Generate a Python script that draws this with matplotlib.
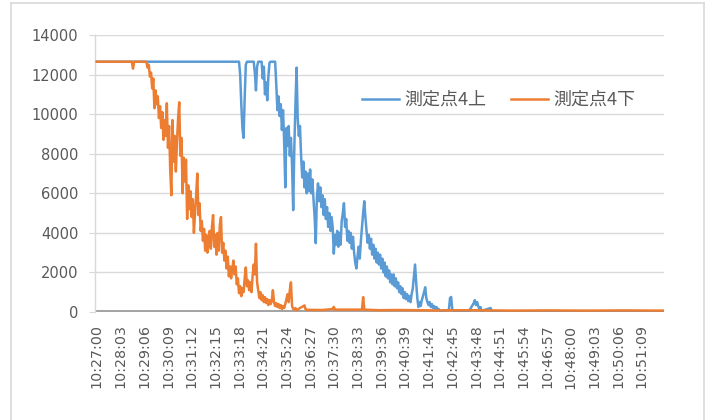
import matplotlib
matplotlib.use("Agg")
import matplotlib.pyplot as plt
from matplotlib.lines import Line2D

plt.rcParams['font.family'] = ['DejaVu Sans', 'Noto Sans CJK JP']

# Seconds elapsed since 10:27:00 and measured values for each point
upper_name = "測定点4上"
upper_sec = [0, 378, 381, 384, 387, 390, 393, 396, 399, 417, 420, 423, 426, 429, 438, 441, 444,
             447, 450, 453, 456, 459, 462, 474,
             477, 480, 483, 486, 489, 492, 495, 498, 501, 504, 507, 510, 513, 516, 519, 522,
             525, 528, 531, 534, 537, 540, 543, 546, 549, 552, 555, 558, 561, 564, 567, 570,
             573, 576, 579, 582, 585, 588, 591, 594, 597, 600, 603, 606, 609, 612, 615, 618,
             621, 624, 627, 630, 633, 636, 639, 642, 645, 648, 651, 654, 657, 660, 663, 666,
             669, 672, 675, 678, 681, 684, 687, 690, 693, 696, 699, 702, 705, 708, 711, 714,
             717, 720, 723, 726, 729, 732, 735, 738, 741, 744, 747, 750, 753, 756, 759, 762,
             765, 768, 771, 774, 777, 780, 783, 786, 789, 792, 795, 798, 801, 804, 807, 810,
             813, 816, 819, 822, 825, 828, 831, 834, 837, 840, 843, 846, 849, 852, 855, 858,
             861, 864, 867, 870, 873, 876, 879, 882, 885, 888, 891, 894, 897, 900, 903, 906,
             909, 912, 936, 939, 942, 945, 948, 990, 996, 1002, 1005, 1008, 1011, 1014, 1017,
             1020, 1023, 1047, 1050, 1509]
upper_val = [12650, 12650, 12000, 10500, 9300, 8800, 10800, 12500, 12650, 12650, 12100, 11200,
             12400, 12650, 12650, 11800, 12400, 11000, 11600, 10700, 11900, 12600, 12650, 12650,
             11500, 10200, 10900, 9900, 10500, 9200, 10200, 8600, 6300, 9300, 8400, 9400, 7900,
             8800, 7400, 5150, 8300, 10500, 12350, 9800, 8900, 9400, 7900, 6800, 7600, 6300,
             7100, 6000, 7000, 6100, 7200, 6000, 6700, 5700, 4800, 3480, 5800, 6500, 5600, 6300,
             5300, 5900, 4900, 5700, 4700, 5300, 4300, 5000, 4100, 4800, 4300, 2950, 3900, 3400,
             4100, 3300, 4000, 3400, 4600, 5000, 5500, 4300, 4700, 3600, 4100, 3500, 4000, 3200,
             3800, 3000, 2500, 2200, 2800, 3300, 2700, 3600, 4300, 5000, 5600, 4800, 4100, 3500,
             3900, 3200, 3700, 2900, 3400, 2700, 3200, 2500, 3000, 2400, 2900, 2200, 2700, 2000,
             2500, 1800, 2300, 1700, 2100, 1500, 1900, 1400, 1900, 1300, 1700, 1200, 1500, 1000,
             1300, 900, 1200, 700, 1000, 650, 900, 550, 800, 500, 900, 1200, 1800, 2400, 1500,
             700, 250, 500, 300, 600, 800, 1000, 1250, 700, 500, 350, 500, 250, 400, 200, 300,
             150, 250, 100, 150, 60, 100, 700, 760, 150, 60, 60, 250, 450, 600, 350, 500, 300,
             150, 250, 60, 200, 40, 30]

lower_name = "測定点4下"
lower_sec = [0, 93, 96, 99,
             129, 132, 135, 138, 141, 144, 147, 150, 153, 156, 159, 162, 165, 168, 171, 174,
             177, 180, 183, 186, 189, 192, 195, 198, 201, 204, 207, 210, 213, 216, 219, 222,
             225, 228, 231, 234, 237, 240, 243, 246, 249, 252, 255, 258, 261, 264, 267, 270,
             273, 276, 279, 282, 285, 288, 291, 294, 297, 300, 303, 306, 309, 312, 315, 318,
             321, 324, 327, 330, 333, 336, 339, 342, 345, 348, 351, 354, 357, 360, 363, 366,
             369, 372, 375, 378, 381, 384, 387, 390, 393, 396, 399, 402, 405, 408, 411, 414,
             417, 420, 423, 426, 429, 432, 435, 438, 441, 444, 447, 450, 453, 456, 459, 462,
             465, 468, 471, 474, 477, 480, 483, 486, 489, 492, 495, 498, 501, 504, 507, 510,
             513, 516, 519, 522, 525, 528, 531,
             540, 552, 555, 558, 600, 627, 630, 633, 705, 708, 711, 750, 800, 900, 1000, 1100,
             1200, 1300, 1400, 1509]
lower_val = [12650, 12650, 12300, 12650,
             12650, 12600, 12350, 12500, 11900, 12100, 11300, 11800, 10300, 11200, 10500, 10900,
             9800, 10400, 9300, 10100, 8700, 9700, 8900, 10550, 8300, 9400, 7200, 5900, 9700,
             7600, 8900, 7100, 8600, 9800, 10600, 7900, 8800, 6000, 7800, 6600, 7700, 4700,
             6400, 5200, 6100, 4800, 5700, 4000, 5000, 5900, 7000, 4900, 5500, 4100, 4600, 3600,
             4200, 3100, 3900, 3000, 3700, 4100, 3200, 4300, 4900, 3300, 3900, 2900, 4000, 3100,
             4400, 4800, 3000, 3500, 2600, 3100, 2200, 2800, 1800, 2300, 1700, 2200, 2600, 1900,
             2300, 1400, 1700, 950, 1300, 800, 1200, 1000, 1700, 2250, 1300, 1600, 1100, 1500,
             1000, 1800, 2400, 1900, 3450, 1500, 1100, 700, 1000, 600, 850, 500, 750, 450, 650,
             350, 600, 400, 550, 1100, 500, 300, 450, 250, 400, 200, 350, 150, 300, 200, 400,
             650, 900, 500, 1100, 1500, 300, 150, 120, 200, 90,
             200, 330, 130, 110, 100, 150, 260, 120, 120, 750, 120, 90, 100, 80, 90, 70,
             80, 70, 80, 70]

time_labels = ["10:27:00", "10:28:03", "10:29:06", "10:30:09", "10:31:12", "10:32:15",
               "10:33:18", "10:34:21", "10:35:24", "10:36:27", "10:37:30", "10:38:33",
               "10:39:36", "10:40:39", "10:41:42", "10:42:45", "10:43:48", "10:44:51",
               "10:45:54", "10:46:57", "10:48:00", "10:49:03", "10:50:06", "10:51:09"]
y_ticks = [0, 2000, 4000, 6000, 8000, 10000, 12000, 14000]


def to_seconds(label, start="10:27:00"):
    h, m, s = (int(p) for p in label.split(":"))
    h0, m0, s0 = (int(p) for p in start.split(":"))
    return (h * 3600 + m * 60 + s) - (h0 * 3600 + m0 * 60 + s0)


W, H = 712, 420
fig = plt.figure(figsize=(W / 100, H / 100), dpi=100)
fig.patch.set_facecolor("white")

# light chart-area border
border = "#d9d9d9"
for xs, ys in [((11 / W, 704 / W), (1 - 3 / H, 1 - 3 / H)),
               ((11 / W, 11 / W), (1 - 3 / H, -0.01)),
               ((704 / W, 704 / W), (1 - 3 / H, -0.01))]:
    fig.add_artist(Line2D(xs, ys, color=border, lw=1.2, transform=fig.transFigure))

ax = fig.add_axes([95 / W, 1 - 312 / H, (664 - 95) / W, (312 - 35) / H])
ax.set_xlim(-5, 1508)
ax.set_ylim(0, 14000)

grid_c = "#d9d9d9"
for v in y_ticks[1:]:
    ax.axhline(v, color=grid_c, lw=1.0, zorder=1)
ax.axhline(0, color="#a5a5a5", lw=2.9, zorder=1.5, solid_capstyle="butt")

ax.plot(upper_sec, upper_val, color="#5b9bd5", lw=1.8, zorder=3, label=upper_name)
ax.plot(lower_sec, lower_val, color="#ed7d31", lw=1.8, zorder=4, label=lower_name)

for s in ["top", "right", "bottom"]:
    ax.spines[s].set_visible(False)
ax.spines["left"].set_color(grid_c)
ax.spines["left"].set_linewidth(1.0)

text_c = "#595959"
ax.set_yticks(y_ticks)
ax.set_yticklabels([str(v) for v in y_ticks])
ax.tick_params(axis="y", length=4, color=grid_c, pad=8, labelsize=10.5, labelcolor=text_c)

ax.set_xticks([to_seconds(lb) for lb in time_labels])
ax.set_xticklabels(time_labels, rotation=90)
ax.tick_params(axis="x", length=0, pad=9, labelsize=10.3, labelcolor=text_c)

leg = ax.legend(loc="center left", bbox_to_anchor=(0.44, 0.765), ncol=2, frameon=False,
                handlelength=2.05, handletextpad=0.3, columnspacing=1.4,
                prop={"family": ["Noto Sans CJK JP"], "size": 13})
for t in leg.get_texts():
    t.set_color(text_c)

fig.savefig("out.png", dpi=100, facecolor="white")
